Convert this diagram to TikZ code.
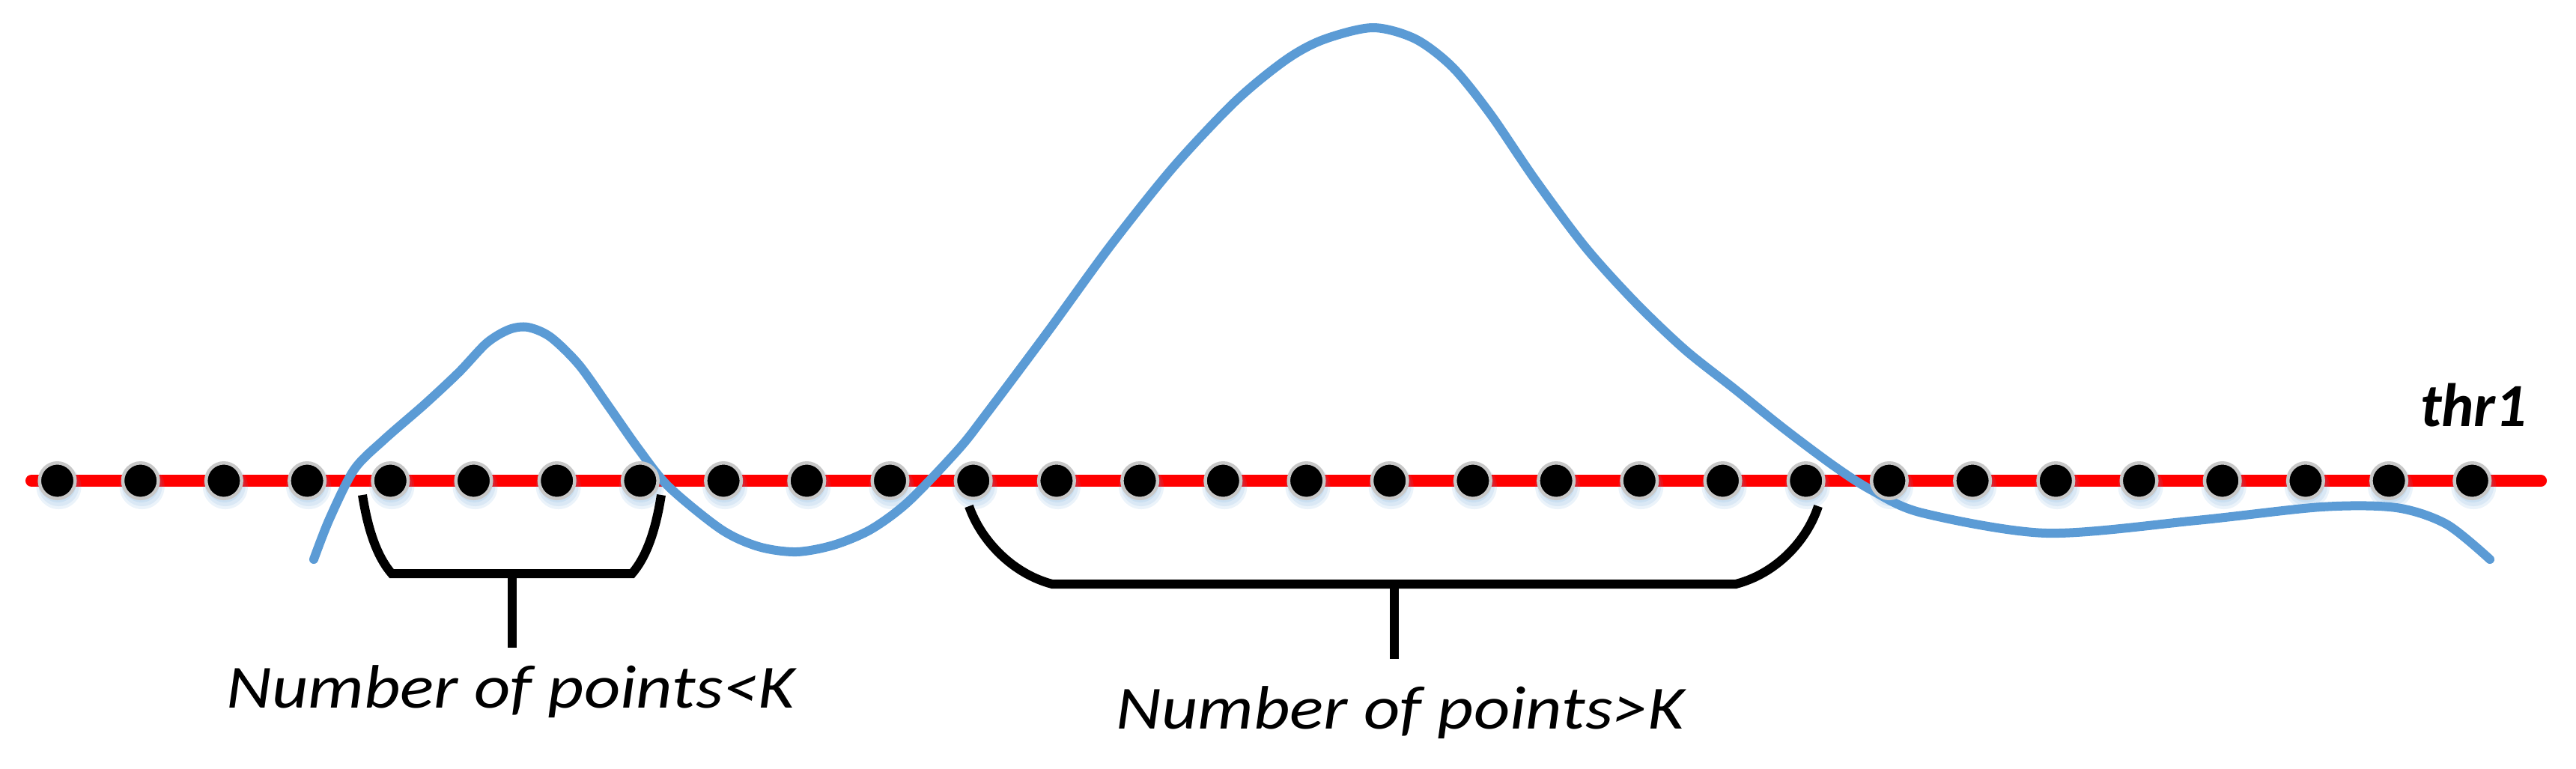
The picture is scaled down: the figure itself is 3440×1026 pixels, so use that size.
\documentclass[tikz,border=0pt]{standalone}
\usepackage{fontspec}
\setmainfont{Carlito}
\begin{document}
\begin{tikzpicture}[x=0.01cm,y=-0.01cm,
  redline/.style={draw=red,line width=0.16cm,line cap=round},
  blueline/.style={draw=curveblue,line width=0.12cm,line cap=round,line join=round},
  bracket/.style={draw=black,line width=0.12cm},
  dot/.style={circle,fill=black,draw=ringgray,line width=0.045cm,minimum size=0.475cm,inner sep=0pt},
  glow/.style={fill=curveblue,fill opacity=0.12,draw=none},
  label/.style={font=\fontsize{23.3}{28}\selectfont\itshape,anchor=base,inner sep=0pt}]
\definecolor{curveblue}{RGB}{91,155,213}
\definecolor{ringgray}{RGB}{200,200,200}
\useasboundingbox (0,0) rectangle (3440,1026);
% threshold line
\coordinate (ls) at (42,642);
\coordinate (le) at (3393,642);
\draw[redline] (ls) -- (le);
% signal curve
\draw[blueline] plot[smooth,tension=0.5] coordinates {
 (419,747) (440,693) (473,627) (513,587) (567,540) (613,497) (650,458) (680,440)
 (705,437) (735,450) (773,487) (813,543) (853,600) (893,650) (963,707) (1013,730)
 (1063,737) (1113,728) (1163,707) (1213,670) (1280,600) (1317,553) (1400,442)
 (1483,328) (1567,223) (1650,135) (1717,80) (1767,53) (1833,37) (1890,52) (1940,90)
 (1990,152) (2050,240) (2117,330) (2183,403) (2250,467) (2317,520) (2383,573)
 (2450,623) (2500,655) (2567,685) (2733,712) (2933,695) (3100,677) (3200,678)
 (3267,700) (3325,747)};
% glow under dots
\foreach \i in {0,...,29}{
  \pgfmathsetmacro{\xx}{76.5+111.2*\i}
  \fill[glow] (\xx+2,650) circle[radius=0.3cm];
  \fill[glow] (\xx+2,649) circle[radius=0.27cm];
  \fill[glow] (\xx+1,647) circle[radius=0.24cm];
}
% dots
\foreach \i in {0,...,29}{
  \pgfmathsetmacro{\xx}{76.5+111.2*\i}
  \node[dot] (d\i) at (\xx,642) {};
}
% bracket 1
\coordinate (a1) at (484,661);
\coordinate (a2) at (523,766);
\coordinate (a3) at (844,766);
\coordinate (a4) at (883,661);
\coordinate (am) at (684,766);
\coordinate (as) at (684,865);
\draw[bracket] (a1) .. controls (492,712) and (505,745) .. (a2) -- (a3)
   .. controls (862,745) and (875,712) .. (a4);
\draw[bracket] (am) -- (as);
% bracket 2
\coordinate (b1) at (1294,676);
\coordinate (b2) at (1405,780);
\coordinate (b3) at (2318,780);
\coordinate (b4) at (2428,676);
\coordinate (bm) at (1862,780);
\coordinate (bs) at (1862,880);
\draw[bracket] (b1) .. controls (1310,722) and (1352,766) .. (b2) -- (b3)
   .. controls (2372,766) and (2413,722) .. (b4);
\draw[bracket] (bm) -- (bs);
% labels
\node[label] (t1) at (682,945) {\scalebox{1.15}[1]{Number of points<K}};
\node[label] (t2) at (1870,973) {\scalebox{1.15}[1]{Number of points>K}};
\node[label,font=\fontsize{23.3}{28}\selectfont\bfseries\itshape] (thr) at (3303,569) {thr1};
\end{tikzpicture}
\end{document}
